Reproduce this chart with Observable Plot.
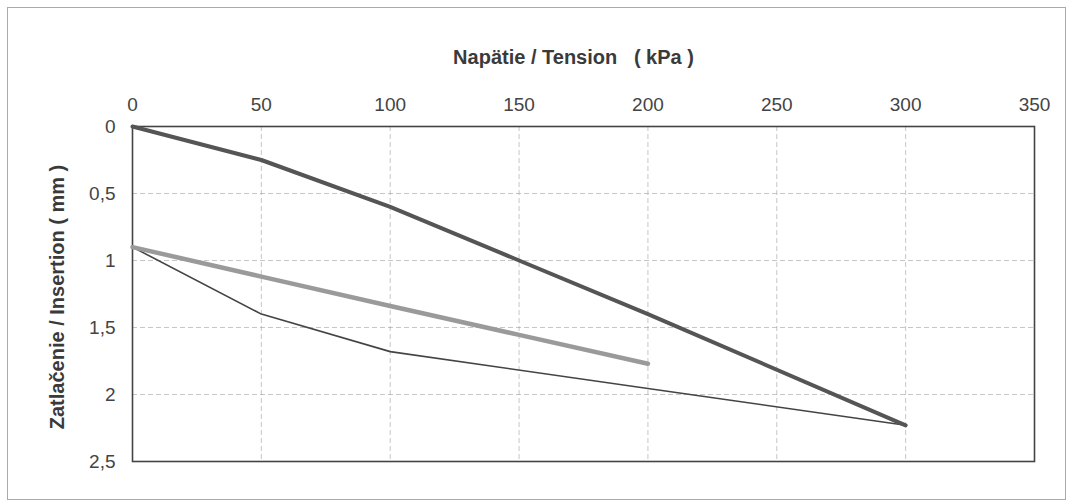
<!DOCTYPE html>
<html>
<head>
<meta charset="utf-8">
<script src="https://cdn.jsdelivr.net/npm/d3@7"></script>
<script src="https://cdn.jsdelivr.net/npm/@observablehq/plot@0.6"></script>
<style>
  html, body { margin: 0; padding: 0; background: #fff; }
  #wrap { position: relative; width: 1077px; height: 504px; }
  #border { position: absolute; left: 7px; top: 7px; width: 1059px; height: 493px; border: 1px solid #aaa; box-sizing: border-box; }
  #chart { position: absolute; left: 0; top: 0; }
</style>
</head>
<body>
<div id="wrap"><div id="border"></div><div id="chart"></div></div>
<script>
const xTicks = [0, 50, 100, 150, 200, 250, 300, 350];
const yTicks = [0, 0.5, 1, 1.5, 2, 2.5];

const loadX = [0, 50, 100, 150, 200, 300];
const loadY = [0, 0.25, 0.6, 1.0, 1.4, 2.23];

const unloadX = [0, 50, 100, 150, 200];
const unloadY = [0.9, 1.12, 1.34, 1.555, 1.77];

const reloadX = [0, 50, 100, 200, 300];
const reloadY = [0.9, 1.4, 1.68, 1.955, 2.23];

const titleText = "Napätie / Tension   ( kPa )";
const yLabelText = "Zatlačenie / Insertion ( mm )";

const toPts = (xs, ys) => xs.map((x, i) => ({x, y: ys[i]}));
const load = toPts(loadX, loadY);
const unload = toPts(unloadX, unloadY);
const reload = toPts(reloadX, reloadY);

const fmt = d => String(d).replace(".", ",");
const FONT = "'Liberation Sans', Arial, sans-serif";

const chart = Plot.plot({
  width: 1077,
  height: 504,
  marginLeft: 132,
  marginRight: 43,
  marginTop: 126,
  marginBottom: 43,
  style: { fontFamily: FONT, color: "#444", background: "transparent" },
  x: { domain: [0, 350] },
  y: { domain: [0, 2.5], reverse: true },
  marks: [
    Plot.gridX(xTicks, { stroke: "#999", strokeOpacity: 0.7, strokeDasharray: "5,3", strokeWidth: 0.8 }),
    Plot.gridY(yTicks, { stroke: "#999", strokeOpacity: 0.7, strokeDasharray: "5,3", strokeWidth: 0.8 }),
    Plot.axisX(xTicks, { anchor: "top", tickSize: 0, tickPadding: 16, fontSize: 19, fill: "#444", label: null, tickFormat: d => String(d) }),
    Plot.axisY(yTicks, { anchor: "left", tickSize: 0, tickPadding: 17, fontSize: 19, fill: "#444", label: null, tickFormat: fmt }),
    Plot.frame({ stroke: "#444", strokeWidth: 1.6 }),
    Plot.line(reload, { x: "x", y: "y", stroke: "#444", strokeWidth: 1.6 }),
    Plot.line(unload, { x: "x", y: "y", stroke: "#9a9a9a", strokeWidth: 4.5 }),
    Plot.line(load, { x: "x", y: "y", stroke: "#555", strokeWidth: 4 }),
    Plot.text([titleText], { text: d => d, frameAnchor: "top", dx: -10, dy: -69, fontSize: 20, fontWeight: "bold", fill: "#3a3a3a", lineAnchor: "middle", textAnchor: "middle", fontFamily: FONT }),
    Plot.text([yLabelText], { text: d => d, frameAnchor: "left", dx: -75, dy: 3, rotate: -90, fontSize: 20, fontWeight: "bold", fill: "#3a3a3a", lineAnchor: "middle", textAnchor: "middle", fontFamily: FONT })
  ]
});
chart.querySelectorAll("text").forEach(t => t.style.whiteSpace = "pre");
document.getElementById("chart").appendChild(chart);
</script>
</body>
</html>
